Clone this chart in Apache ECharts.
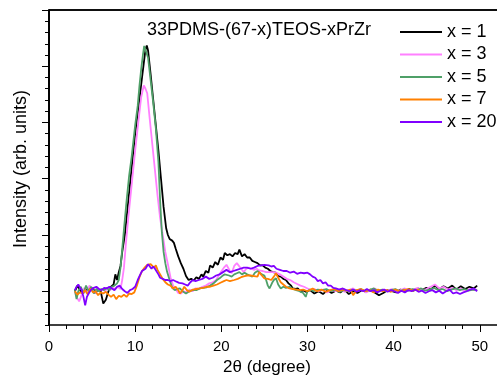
<!DOCTYPE html>
<html><head><meta charset="utf-8">
<script src="https://cdn.jsdelivr.net/npm/echarts@6/dist/echarts.min.js"></script>
<style>html,body{margin:0;padding:0;background:#fff}#c{width:497px;height:376px}</style>
</head><body><div id="c"></div>
<script>
const seriesNames = ['x = 1', 'x = 3', 'x = 5', 'x = 7', 'x = 20'];
const seriesColors = ['#000000', '#ff80ff', '#4fa068', '#ff8000', '#8000ff'];
const chartTitle = '33PDMS-(67-x)TEOS-xPrZr';
const xTitle = '2\u03b8 (degree)';
const yTitle = 'Intensity (arb. units)';
const yMajorTicks = [0, 1, 2, 3, 4, 5];

// [2theta, intensity] pairs
const x1Data = [[3.0,0.0],[3.3,0.1],[3.6,0.02],[3.9,-0.04],[4.2,0.05],[4.5,-0.02],[4.8,0.04],[5.1,0.05],[5.4,-0.03],[5.7,0.04],[6.0,0.0],[6.3,-0.22],[6.6,-0.15],[6.9,0.0],[7.2,0.08],[7.5,0.12],[7.7,0.3],[7.9,0.2],[8.1,0.34],[8.3,0.45],[8.5,0.7],[8.8,1.0],[9.2,1.6],[9.6,2.2],[10.0,2.8],[10.4,3.3],[10.8,3.8],[11.0,4.05],[11.2,4.3],[11.35,4.37],[11.5,4.28],[11.8,3.85],[12.1,3.4],[12.4,2.95],[12.7,2.5],[13.0,2.0],[13.3,1.5],[13.6,1.12],[13.8,1.0],[14.0,0.93],[14.3,0.9],[14.5,0.86],[14.7,0.76],[15.0,0.62],[15.3,0.5],[15.6,0.4],[15.9,0.27],[16.2,0.2],[16.5,0.22],[16.8,0.19],[17.1,0.25],[17.4,0.22],[17.7,0.3],[17.9,0.26],[18.2,0.36],[18.5,0.33],[18.7,0.46],[19.0,0.42],[19.3,0.52],[19.6,0.47],[19.9,0.6],[20.2,0.56],[20.4,0.68],[20.7,0.64],[21.0,0.66],[21.3,0.62],[21.6,0.68],[21.9,0.66],[22.1,0.74],[22.4,0.62],[22.7,0.66],[23.0,0.6],[23.3,0.6],[23.6,0.54],[23.9,0.52],[24.2,0.5],[24.5,0.46],[24.8,0.46],[25.1,0.42],[25.4,0.4],[25.7,0.36],[26.0,0.34],[26.3,0.33],[26.6,0.27],[26.9,0.26],[27.2,0.22],[27.5,0.2],[27.8,0.14],[28.1,0.1],[28.3,0.05],[28.6,0.04],[28.9,0.05],[29.2,-0.01],[29.5,0.02],[29.8,-0.01],[30.3,0.02],[30.8,-0.04],[31.3,0.0],[31.8,-0.05],[32.3,0.02],[32.8,-0.03],[33.3,0.01],[33.8,-0.02],[34.3,0.03],[34.8,-0.05],[35.3,0.0],[35.8,-0.03],[36.3,0.02],[36.8,-0.01],[37.3,0.03],[37.8,-0.02],[38.3,-0.07],[38.8,-0.03],[39.3,0.02],[39.8,0.0],[40.3,-0.02],[40.8,0.03],[41.3,0.0],[41.8,0.04],[42.3,0.01],[42.8,0.05],[43.3,0.02],[43.8,0.06],[44.3,0.03],[44.8,0.1],[45.3,0.04],[45.8,0.09],[46.3,0.05],[46.8,0.1],[47.3,0.03],[47.8,0.09],[48.3,0.04],[48.8,0.08],[49.3,0.05],[49.7,0.1]];

const x3Data = [[3.0,0.0],[3.2,-0.1],[3.5,-0.18],[3.8,-0.06],[4.1,0.06],[4.4,-0.04],[4.7,0.1],[5.0,0.04],[5.3,-0.04],[5.6,0.06],[5.9,0.02],[6.2,0.04],[6.5,0.0],[6.8,0.06],[7.1,0.02],[7.4,0.06],[7.7,0.04],[8.0,0.08],[8.3,0.04],[8.5,0.2],[8.7,0.42],[8.9,0.8],[9.2,1.3],[9.6,1.9],[10.0,2.5],[10.4,3.05],[10.7,3.45],[11.0,3.66],[11.2,3.6],[11.4,3.52],[11.7,3.05],[12.0,2.6],[12.3,2.15],[12.6,1.7],[12.9,1.3],[13.2,1.0],[13.5,0.7],[13.8,0.48],[14.1,0.25],[14.4,0.1],[14.7,0.04],[15.0,-0.03],[15.3,-0.04],[15.6,0.0],[16.0,-0.02],[16.3,0.03],[16.7,0.0],[17.0,0.05],[17.4,0.04],[17.8,0.08],[18.2,0.1],[18.6,0.14],[19.0,0.16],[19.4,0.2],[19.7,0.28],[20.0,0.35],[20.3,0.42],[20.6,0.47],[20.8,0.5],[21.0,0.36],[21.2,0.32],[21.5,0.45],[21.8,0.5],[22.0,0.46],[22.3,0.4],[22.6,0.34],[22.9,0.4],[23.2,0.42],[23.5,0.4],[23.8,0.38],[24.1,0.4],[24.4,0.37],[24.8,0.36],[25.2,0.34],[25.6,0.34],[26.0,0.34],[26.4,0.33],[26.8,0.3],[27.2,0.26],[27.6,0.22],[28.0,0.2],[28.4,0.16],[28.8,0.13],[29.2,0.1],[29.6,0.08],[30.0,0.05],[30.4,0.02],[30.8,0.04],[31.3,0.0],[31.8,0.03],[32.3,-0.02],[32.8,0.02],[33.3,0.0],[33.8,0.04],[34.3,-0.01],[34.8,0.02],[35.3,0.05],[35.8,0.0],[36.3,0.03],[36.8,-0.02],[37.3,0.02],[37.8,0.05],[38.3,0.0],[38.8,0.03],[39.3,0.01],[39.8,0.04],[40.3,0.0],[40.8,0.02],[41.3,0.05],[41.8,0.01],[42.3,0.03],[42.8,0.06],[43.3,0.02],[43.8,0.04],[44.3,0.08],[44.8,0.12],[45.3,0.05],[45.8,0.08],[46.3,0.03],[46.8,0.06],[47.3,0.02],[47.8,0.05],[48.3,0.0],[48.8,0.04],[49.3,0.02],[49.7,0.03]];

const x5Data = [[3.0,0.02],[3.2,-0.14],[3.4,0.0],[3.7,0.08],[4.0,-0.04],[4.3,0.1],[4.6,0.0],[4.9,0.08],[5.2,-0.04],[5.5,0.04],[5.8,0.0],[6.1,0.04],[6.4,0.02],[6.7,0.06],[7.0,0.02],[7.3,0.08],[7.6,0.1],[7.9,0.14],[8.1,0.2],[8.3,0.42],[8.5,0.75],[8.7,1.1],[9.0,1.6],[9.3,2.05],[9.6,2.4],[10.0,2.95],[10.3,3.3],[10.5,3.65],[10.7,3.95],[10.9,4.2],[11.05,4.36],[11.2,4.33],[11.5,4.15],[11.8,3.75],[12.1,3.35],[12.4,2.9],[12.7,2.3],[12.9,1.6],[13.1,1.05],[13.3,0.7],[13.5,0.5],[13.7,0.35],[14.0,0.2],[14.3,0.06],[14.6,0.02],[14.9,0.04],[15.2,0.05],[15.5,0.0],[15.9,-0.04],[16.3,0.0],[16.7,0.02],[17.1,0.02],[17.5,0.05],[17.9,0.06],[18.3,0.07],[18.7,0.1],[19.1,0.14],[19.5,0.2],[19.8,0.23],[20.1,0.27],[20.4,0.3],[20.6,0.32],[20.9,0.28],[21.2,0.26],[21.5,0.3],[21.8,0.32],[22.1,0.34],[22.4,0.3],[22.7,0.33],[23.0,0.3],[23.3,0.28],[23.6,0.26],[23.9,0.33],[24.2,0.36],[24.4,0.38],[24.7,0.3],[25.0,0.28],[25.2,0.2],[25.4,0.1],[25.6,0.05],[25.9,0.15],[26.1,0.2],[26.35,0.23],[26.6,0.12],[26.9,0.05],[27.2,0.08],[27.5,0.06],[27.9,0.08],[28.3,0.04],[28.7,0.02],[29.1,0.0],[29.5,-0.03],[29.8,-0.1],[30.0,0.0],[30.3,0.03],[30.7,0.0],[31.2,0.03],[31.7,0.02],[32.2,0.04],[32.7,0.0],[33.2,0.03],[33.7,-0.01],[34.2,0.02],[34.7,0.0],[35.2,0.03],[35.7,0.01],[36.2,0.04],[36.7,0.0],[37.2,0.02],[37.7,0.05],[38.2,0.01],[38.7,0.03],[39.2,0.0],[39.7,0.02],[40.2,0.04],[40.7,0.0],[41.2,0.03],[41.7,0.01],[42.2,0.04],[42.7,0.02],[43.2,0.05],[43.7,0.01],[44.2,0.03],[44.7,0.06],[45.2,0.02],[45.7,0.04],[46.2,0.0],[46.7,0.03],[47.2,0.05],[47.7,0.02],[48.2,0.04],[48.7,0.01],[49.2,0.03],[49.7,0.02]];

const x7Data = [[3.0,0.0],[3.3,-0.06],[3.6,-0.02],[3.9,-0.04],[4.2,0.02],[4.5,-0.06],[4.8,0.05],[5.1,-0.02],[5.4,0.0],[5.7,-0.07],[6.0,-0.02],[6.3,-0.04],[6.6,-0.01],[6.9,-0.06],[7.2,-0.1],[7.5,-0.06],[7.8,-0.14],[8.1,-0.08],[8.4,-0.1],[8.7,-0.06],[9.0,-0.1],[9.3,-0.04],[9.6,-0.05],[9.9,-0.02],[10.2,0.1],[10.5,0.25],[10.8,0.36],[11.1,0.42],[11.4,0.47],[11.6,0.5],[11.8,0.48],[12.0,0.5],[12.2,0.42],[12.4,0.46],[12.6,0.38],[12.9,0.3],[13.2,0.22],[13.5,0.16],[13.8,0.12],[14.1,0.1],[14.4,0.05],[14.7,0.08],[15.0,0.02],[15.2,-0.04],[15.5,0.02],[15.7,0.08],[16.0,0.02],[16.3,-0.01],[16.7,0.03],[17.1,0.04],[17.5,0.05],[17.9,0.06],[18.3,0.08],[18.7,0.08],[19.1,0.1],[19.5,0.12],[19.9,0.15],[20.3,0.18],[20.6,0.2],[21.0,0.18],[21.5,0.2],[21.9,0.22],[22.3,0.25],[22.7,0.27],[23.0,0.28],[23.4,0.28],[23.8,0.27],[24.2,0.26],[24.4,0.34],[24.7,0.28],[25.0,0.23],[25.4,0.22],[25.8,0.2],[26.1,0.26],[26.35,0.32],[26.6,0.24],[26.9,0.16],[27.2,0.12],[27.5,0.08],[27.9,0.05],[28.3,0.04],[28.7,0.03],[29.1,0.02],[29.5,0.03],[30.0,0.0],[30.6,0.05],[31.1,0.0],[31.6,0.03],[32.1,-0.01],[32.6,0.02],[33.1,0.04],[33.6,0.0],[34.1,0.03],[34.6,0.01],[35.0,0.03],[35.3,-0.07],[35.7,0.02],[36.2,0.04],[36.7,0.0],[37.2,0.02],[37.7,-0.02],[38.2,0.03],[38.7,0.0],[39.2,0.02],[39.7,-0.01],[40.2,0.03],[40.7,0.0],[41.2,0.02],[41.7,0.04],[42.2,0.01],[42.7,0.03],[43.0,0.02]];

const x20Data = [[3.0,0.02],[3.2,0.08],[3.4,0.12],[3.6,0.06],[3.8,0.02],[4.0,-0.1],[4.2,-0.25],[4.4,-0.1],[4.6,-0.04],[4.9,0.03],[5.2,0.06],[5.5,0.08],[5.8,0.04],[6.1,0.02],[6.4,0.06],[6.7,0.05],[7.0,0.08],[7.3,0.05],[7.6,0.02],[7.9,0.08],[8.2,0.1],[8.5,0.04],[8.8,0.0],[9.1,-0.03],[9.4,0.02],[9.7,0.04],[10.0,0.08],[10.3,0.2],[10.6,0.3],[10.8,0.36],[11.0,0.33],[11.2,0.4],[11.5,0.48],[11.7,0.44],[11.9,0.4],[12.1,0.44],[12.3,0.4],[12.5,0.42],[12.7,0.3],[12.9,0.24],[13.2,0.22],[13.5,0.2],[13.8,0.2],[14.1,0.18],[14.4,0.2],[14.8,0.17],[15.1,0.15],[15.5,0.14],[15.8,0.12],[16.1,0.1],[16.4,0.16],[16.7,0.2],[17.0,0.18],[17.4,0.2],[17.8,0.22],[18.2,0.26],[18.6,0.22],[19.0,0.24],[19.4,0.28],[19.8,0.3],[20.2,0.34],[20.6,0.38],[21.0,0.34],[21.4,0.36],[21.8,0.38],[22.2,0.4],[22.6,0.42],[23.0,0.42],[23.4,0.4],[23.8,0.42],[24.2,0.45],[24.6,0.46],[25.0,0.47],[25.2,0.5],[25.5,0.46],[25.8,0.44],[26.1,0.45],[26.4,0.4],[26.8,0.38],[27.2,0.36],[27.6,0.36],[28.0,0.33],[28.4,0.35],[28.8,0.31],[29.2,0.33],[29.6,0.32],[30.0,0.33],[30.3,0.3],[30.6,0.26],[30.9,0.24],[31.2,0.18],[31.5,0.2],[31.8,0.14],[32.1,0.16],[32.4,0.1],[32.7,0.1],[33.0,0.06],[33.3,0.05],[33.7,0.03],[34.1,0.05],[34.5,0.02],[34.9,0.0],[35.3,0.03],[35.7,-0.01],[36.1,0.02],[36.5,0.0],[36.9,0.04],[37.3,0.0],[37.7,0.02],[38.1,-0.02],[38.5,0.01],[38.9,0.03],[39.3,-0.01],[39.7,0.02],[40.1,0.0],[40.5,-0.03],[40.9,0.01],[41.3,-0.02],[41.7,0.02],[42.1,0.0],[42.5,0.03],[42.9,-0.01],[43.3,0.01],[43.7,-0.03],[44.1,0.0],[44.5,0.02],[44.9,-0.02],[45.3,0.01],[45.7,-0.04],[46.1,0.0],[46.5,0.03],[46.9,-0.04],[47.3,-0.02],[47.7,-0.05],[48.1,-0.02],[48.5,0.0],[48.9,0.03],[49.3,0.05],[49.7,0.0]];

const allData = [x1Data, x3Data, x5Data, x7Data, x20Data];

const FONT = '"Liberation Sans", Arial, Helvetica, sans-serif';
const chart = echarts.init(document.getElementById('c'), null, {renderer: 'canvas'});
const axisLineStyle = {color: '#000', width: 1.5};
const tickStyle = {color: '#000', width: 1};
const noSplit = {splitLine: {show: false}, splitArea: {show: false}, minorSplitLine: {show: false}, minorTick: {show: false}};
const option = {
  animation: false,
  backgroundColor: '#fff',
  textStyle: {fontFamily: FONT},
  grid: [{left: 49, top: 10, width: 449, height: 315}],
  xAxis: [
    Object.assign({type: 'value', min: 0, max: 52, interval: 2, position: 'bottom',
     axisLine: {show: true, onZero: false, lineStyle: axisLineStyle},
     axisTick: {show: true, inside: false, length: 4, lineStyle: tickStyle},
     axisLabel: {show: false}}, noSplit),
    Object.assign({type: 'value', min: 0, max: 52, interval: 10, position: 'bottom',
     axisLine: {show: false, onZero: false},
     axisTick: {show: true, inside: false, length: 7, lineStyle: tickStyle},
     axisLabel: {show: true, margin: 14, fontSize: 15, color: '#000', fontFamily: FONT, showMaxLabel: false}}, noSplit),
    Object.assign({type: 'value', min: 0, max: 52, interval: 10, position: 'top',
     axisLine: {show: true, onZero: false, lineStyle: axisLineStyle},
     axisTick: {show: false}, axisLabel: {show: false}}, noSplit)
  ],
  yAxis: [
    Object.assign({type: 'value', min: -0.6, max: 5, interval: 0.2, position: 'left',
     axisLine: {show: true, onZero: false, lineStyle: axisLineStyle},
     axisTick: {show: true, inside: false, length: 4, lineStyle: tickStyle},
     axisLabel: {show: false}}, noSplit),
    Object.assign({type: 'value', min: -0.6, max: 5, position: 'left',
     axisLine: {show: true, onZero: false, lineStyle: axisLineStyle},
     axisTick: {show: true, inside: false, length: 7, lineStyle: tickStyle, customValues: yMajorTicks},
     axisLabel: {show: false}}, noSplit)
  ],
  legend: {
    orient: 'vertical', left: 400, top: 23, padding: 0, icon: 'rect',
    itemWidth: 42, itemHeight: 2, itemGap: 4.5,
    textStyle: {fontSize: 18, lineHeight: 18, color: '#000', fontFamily: FONT},
    data: seriesNames
  },
  graphic: [
    {type: 'text', left: 147, top: 21, style: {text: chartTitle, font: '18px ' + FONT, fill: '#000'}},
    {type: 'text', x: 267, y: 367, style: {text: xTitle, font: '17px ' + FONT, fill: '#000', textAlign: 'center', textVerticalAlign: 'middle'}},
    {type: 'text', x: 21, y: 169, rotation: Math.PI / 2, style: {text: yTitle, font: '18px ' + FONT, fill: '#000', textAlign: 'center', textVerticalAlign: 'middle'}}
  ],
  series: seriesNames.map((name, i) => {
    const s = {
      name: name, type: 'line', xAxisIndex: 0, yAxisIndex: 0,
      data: allData[i], showSymbol: false, symbol: 'none', smooth: false, clip: false,
      lineStyle: {color: seriesColors[i], width: 1.8},
      itemStyle: {color: seriesColors[i]},
      z: 2 + i
    };
    if (i === 0) {
      s.markLine = {
        silent: true, animation: false, symbol: ['none', 'none'],
        label: {show: false},
        lineStyle: {color: '#000', width: 1.5, type: 'solid'},
        emphasis: {disabled: true},
        data: [{xAxis: 0}, {yAxis: 5}]
      };
    }
    return s;
  })
};
chart.setOption(option);
</script>
</body></html>
